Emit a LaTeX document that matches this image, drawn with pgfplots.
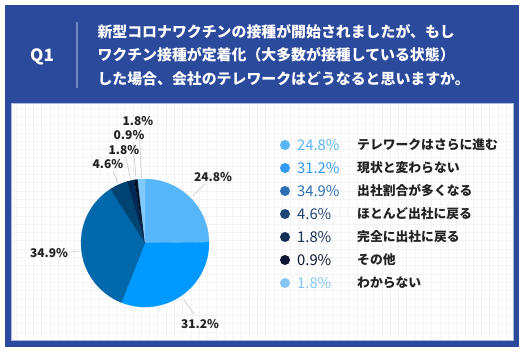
\documentclass[border=0pt]{standalone}
\usepackage{fontspec}
\setmainfont{Noto Sans CJK JP}
\usepackage{pgfplots}
\usepackage{pgfplotstable}
\pgfplotsset{compat=1.18}
\definecolor{hdr}{HTML}{2B4A9B}
\definecolor{divc}{HTML}{7088C4}
\definecolor{edgec}{HTML}{A9B9E2}
\definecolor{gridc}{HTML}{F3F3F5}
\definecolor{lead}{HTML}{C8C8C8}
\definecolor{s1}{HTML}{57B6F8}
\definecolor{s2}{HTML}{0099FF}
\definecolor{s3}{HTML}{0068AB}
\definecolor{s4}{HTML}{004473}
\definecolor{s5}{HTML}{002A55}
\definecolor{s6}{HTML}{001228}
\definecolor{s7}{HTML}{80C9FB}
\definecolor{l1}{HTML}{5AB5F5}
\definecolor{l2}{HTML}{3399F3}
\definecolor{l3}{HTML}{2E6FB3}
\definecolor{l4}{HTML}{1F4677}
\definecolor{l5}{HTML}{162F57}
\definecolor{l6}{HTML}{0B1730}
\definecolor{l7}{HTML}{85C6F7}
\definecolor{txt}{HTML}{222222}

\pgfplotstableread{
pct col
24.8 s1
31.2 s2
34.9 s3
4.6 s4
1.8 s5
0.9 s6
1.8 s7
}\piedata

\begin{document}
\begin{tikzpicture}
\begin{axis}[width=524pt,height=354pt,scale only axis,
  xmin=0,xmax=524,ymin=0,ymax=354,y dir=reverse,hide axis,clip=false]
% frame and header
\fill[white] (axis cs:0,0) rectangle (axis cs:524,354);
\fill[hdr] (axis cs:5,5) rectangle (axis cs:519,347);
\fill[white] (axis cs:11,103) rectangle (axis cs:513,340);
\draw[gridc, line width=0.5pt, step=8.3pt] (axis cs:11,103) grid (axis cs:513,340);
\draw[edgec, line width=0.8pt] (axis cs:11,103) rectangle (axis cs:513,340);
\draw[divc, line width=1.5pt] (axis cs:77,22) -- (axis cs:77,88);
\node[text=white, font=\fontsize{17}{20}\selectfont\bfseries] at (axis cs:42,57) {Q1};
\node[anchor=west, text=white, font=\fontsize{14.9}{18}\selectfont\bfseries] at (axis cs:94,32) {新型コロナワクチンの接種が開始されましたが、もし};
\node[anchor=west, text=white, font=\fontsize{14.9}{18}\selectfont\bfseries] at (axis cs:94,55) {ワクチン接種が定着化（大多数が接種している状態）};
\node[anchor=west, text=white, font=\fontsize{14.9}{18}\selectfont\bfseries] at (axis cs:94,79) {した場合、会社のテレワークはどうなると思いますか。};
% pie
\def\cum{0}
\pgfplotsforeachungrouped \i in {0,...,6}{
  \pgfplotstablegetelem{\i}{pct}\of\piedata \let\p\pgfplotsretval
  \pgfplotstablegetelem{\i}{col}\of\piedata \let\c\pgfplotsretval
  \pgfmathsetmacro\a{90-3.6*\cum}
  \pgfmathsetmacro\cum{\cum+\p}
  \pgfmathsetmacro\b{90-3.6*\cum}
  \edef\temp{\noexpand\addplot[fill=\c, draw=\c, line width=0.2pt, domain=\b:\a, samples=60] ({145+64*cos(x)},{243-64*sin(x)}) -- (axis cs:145,243) -- cycle;}
  \temp
}
% leader lines
\draw[lead, line width=0.6pt] (axis cs:193,196) -- (axis cs:205,184);
\draw[lead, line width=0.6pt] (axis cs:184,300) -- (axis cs:194,314);
\draw[lead, line width=0.6pt] (axis cs:69,252) -- (axis cs:80,251);
\draw[lead, line width=0.6pt] (axis cs:113,171) -- (axis cs:118,183);
\draw[lead, line width=0.6pt] (axis cs:126,157) -- (axis cs:130.5,179);
\draw[lead, line width=0.6pt] (axis cs:133,142) -- (axis cs:136,178);
\draw[lead, line width=0.6pt] (axis cs:139,128) -- (axis cs:141.5,178);
% pie labels
\tikzset{pl/.style={text=txt, font=\fontsize{12}{14}\selectfont\bfseries, inner sep=0pt}}
\node[pl] at (axis cs:213,177) {24.8\%};
\node[pl] at (axis cs:200,324) {31.2\%};
\node[pl] at (axis cs:49,253) {34.9\%};
\node[pl] at (axis cs:108,164) {4.6\%};
\node[pl] at (axis cs:124,150) {1.8\%};
\node[pl] at (axis cs:129,135) {0.9\%};
\node[pl] at (axis cs:138,121) {1.8\%};
% legend
\tikzset{lp/.style={anchor=west, font=\fontsize{14.8}{17}\selectfont, inner sep=0pt},
         lt/.style={anchor=west, text=txt, font=\fontsize{12.8}{15}\selectfont\bfseries, inner sep=0pt}}
\fill[l1] (axis cs:285,145) circle[radius=5pt];
\fill[l2] (axis cs:285,168) circle[radius=5pt];
\fill[l3] (axis cs:285,191) circle[radius=5pt];
\fill[l4] (axis cs:285,214) circle[radius=5pt];
\fill[l5] (axis cs:285,237) circle[radius=5pt];
\fill[l6] (axis cs:285,260) circle[radius=5pt];
\fill[l7] (axis cs:285,283) circle[radius=5pt];
\node[lp, text=l1] at (axis cs:297,145) {24.8\%};
\node[lp, text=l2] at (axis cs:297,168) {31.2\%};
\node[lp, text=l3] at (axis cs:297,191) {34.9\%};
\node[lp, text=l4] at (axis cs:297,214) {4.6\%};
\node[lp, text=l5] at (axis cs:297,237) {1.8\%};
\node[lp, text=l6] at (axis cs:297,260) {0.9\%};
\node[lp, text=l7] at (axis cs:297,283) {1.8\%};
\node[lt] at (axis cs:357,145) {テレワークはさらに進む};
\node[lt] at (axis cs:357,168) {現状と変わらない};
\node[lt] at (axis cs:357,191) {出社割合が多くなる};
\node[lt] at (axis cs:357,214) {ほとんど出社に戻る};
\node[lt] at (axis cs:357,237) {完全に出社に戻る};
\node[lt] at (axis cs:357,260) {その他};
\node[lt] at (axis cs:357,283) {わからない};
\end{axis}
\end{tikzpicture}
\end{document}
